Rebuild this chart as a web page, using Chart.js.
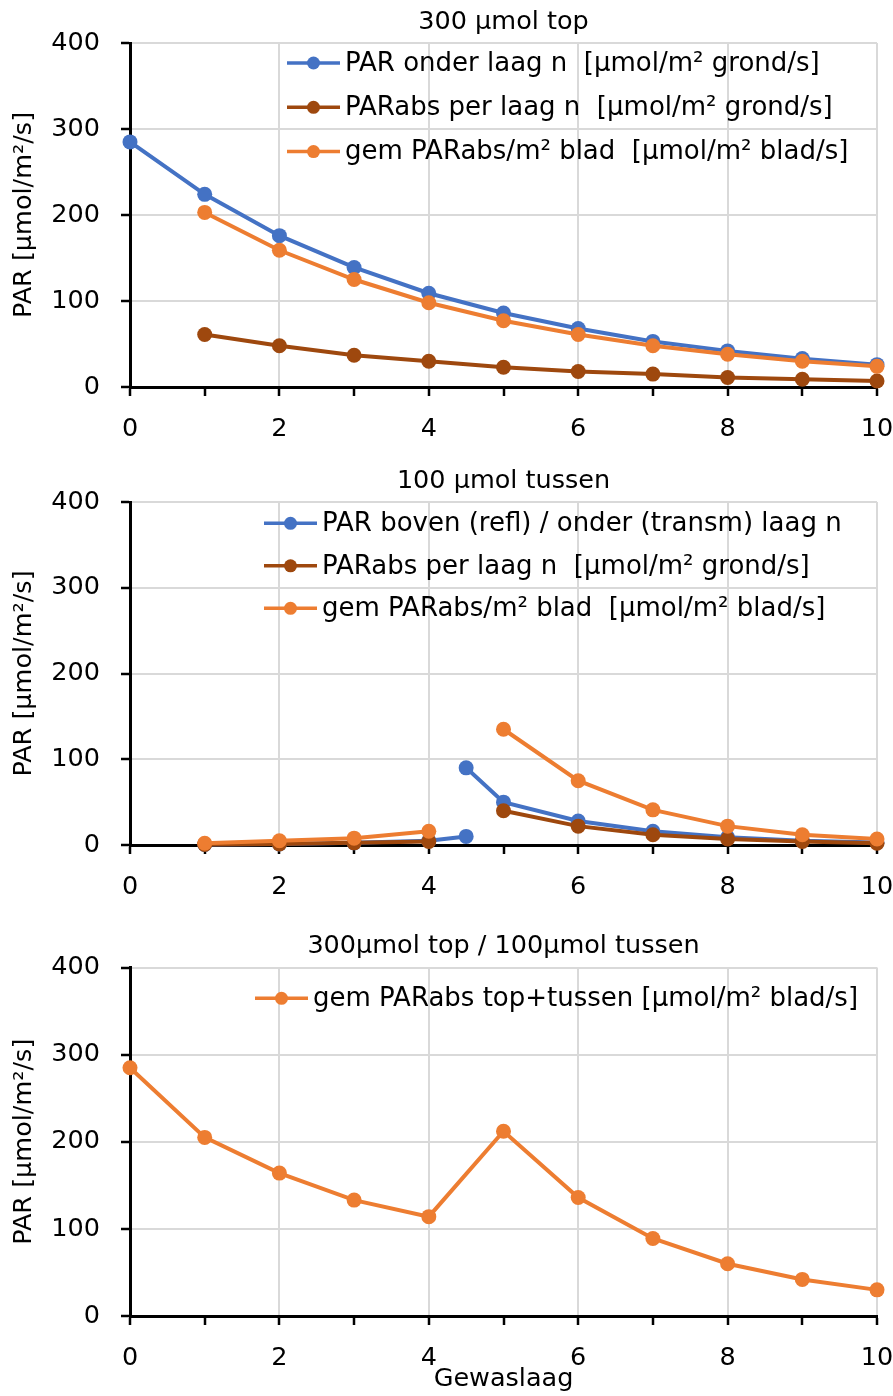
<!DOCTYPE html>
<html>
<head>
<meta charset="utf-8">
<script src="https://cdn.jsdelivr.net/npm/chart.js@4.4.1/dist/chart.umd.min.js"></script>
<style>
  body { margin: 0; background: #fff; }
  .box { position: absolute; left: 0; width: 893px; }
</style>
</head>
<body>
<div class="box" style="top:0;height:450px"><canvas id="top"></canvas></div>
<div class="box" style="top:450px;height:450px"><canvas id="tussen"></canvas></div>
<div class="box" style="top:900px;height:496px"><canvas id="totaal"></canvas></div>
<script>
// gewaslagen 0..10
const lagen = [0, 1, 2, 3, 4, 5, 6, 7, 8, 9, 10];

// 300 umol top
const topParOnder = [285, 224, 176, 139, 109, 86, 68, 53, 42, 33, 26];
const topParAbs = [null, 61, 48, 37, 30, 23, 18, 15, 11, 9, 7];
const topGemBlad = [null, 203, 159, 125, 98, 77, 61, 48, 38, 30, 24];

// 100 umol tussen (lamp op laag 4.5, null = onderbreking van de lijn)
const tussenX = [1, 2, 3, 4, 4.5, 4.5, 4.5, 5, 6, 7, 8, 9, 10];
const tussenPar = [0.6, 1.2, 2.5, 5, 10, null, 90, 50, 28, 16, 9, 5, 3];
const tussenAbs = [0.6, 1.3, 2.5, 4, null, null, null, 40, 22, 12, 7, 4, 2];
const tussenGemBlad = [2, 5, 8, 16, null, null, null, 135, 75, 41, 22, 12, 7];

// top + tussen
const totGemBlad = [285, 205, 164, 133, 114, 212, 136, 89, 60, 42, 30];

const BLUE = '#4472C4';
const BROWN = '#9E480E';
const ORANGE = '#ED7D31';
const FONT = 25.5;

Chart.defaults.font.family = "'DejaVu Sans', sans-serif";
Chart.defaults.color = '#000';

const toPoints = (xs, ys) => xs.map((x, i) => ({ x: x, y: ys[i] }));

function serie(label, color, xs, ys, order) {
  return {
    label: label,
    data: toPoints(xs, ys),
    borderColor: color,
    backgroundColor: color,
    borderWidth: 4,
    pointRadius: 7.5,
    pointHoverRadius: 7.5,
    pointBorderWidth: 0,
    pointBackgroundColor: color,
    spanGaps: false,
    clip: false,
    order: order
  };
}

// legend drawn inside the plot area, like the excel version
const insideLegend = {
  id: 'insideLegend',
  afterDatasetsDraw(chart, args, opts) {
    const ctx = chart.ctx;
    ctx.save();
    ctx.font = opts.size + "px 'DejaVu Sans'";
    ctx.textBaseline = 'middle';
    chart.data.datasets.forEach((ds, i) => {
      const y = opts.y + i * opts.gap;
      const x0 = opts.x - 58;
      const x1 = opts.x - 5;
      ctx.strokeStyle = ds.borderColor;
      ctx.lineWidth = 3.5;
      ctx.beginPath();
      ctx.moveTo(x0, y);
      ctx.lineTo(x1, y);
      ctx.stroke();
      ctx.fillStyle = ds.borderColor;
      ctx.beginPath();
      ctx.arc((x0 + x1) / 2, y, 6.5, 0, Math.PI * 2);
      ctx.fill();
      ctx.fillStyle = '#000';
      ctx.fillText(ds.label, opts.x, y + 1);
    });
    ctx.restore();
  }
};

function xScale(height, title) {
  return {
    type: 'linear',
    min: 0,
    max: 10,
    ticks: {
      stepSize: 1,
      autoSkip: false,
      maxRotation: 0,
      padding: 18,
      font: { size: FONT },
      callback: (v) => (v % 2 === 0 ? v : '')
    },
    grid: {
      color: (c) => (c.tick && c.tick.value % 2 === 0 ? '#d9d9d9' : 'rgba(0,0,0,0)'),
      lineWidth: 2,
      tickColor: '#000',
      tickLength: 9,
      tickWidth: 2.5
    },
    border: { color: '#000', width: 3 },
    title: {
      display: !!title,
      text: title || '',
      font: { size: FONT },
      padding: { top: 0, bottom: 1.7 }
    },
    afterFit: (s) => { s.height = height; s.paddingLeft = 0; s.paddingRight = 0; }
  };
}

function yScale() {
  return {
    min: 0,
    max: 400,
    ticks: { stepSize: 100, padding: 21, font: { size: FONT } },
    grid: {
      color: '#d9d9d9',
      lineWidth: 2,
      tickColor: '#000',
      tickLength: 9,
      tickWidth: 2.5
    },
    border: { color: '#000', width: 3 },
    title: {
      display: true,
      text: 'PAR [µmol/m²/s]',
      font: { size: FONT },
      padding: { top: 8.7, bottom: 0 }
    },
    afterFit: (s) => { s.width = 130; }
  };
}

function makeChart(id, datasets, opts) {
  return new Chart(document.getElementById(id), {
    type: 'line',
    data: { datasets: datasets },
    options: {
      responsive: true,
      maintainAspectRatio: false,
      animation: false,
      events: [],
      layout: { padding: { left: 0, right: 16, top: 0, bottom: 0 } },
      scales: { x: xScale(opts.xHeight, opts.xTitle), y: yScale() },
      plugins: {
        legend: { display: false },
        tooltip: { enabled: false },
        title: {
          display: true,
          text: opts.title,
          fullSize: false,
          color: '#000',
          font: { size: FONT, weight: 'normal' },
          padding: opts.titlePad
        },
        insideLegend: opts.legend
      }
    },
    plugins: [insideLegend]
  });
}

makeChart('top', [
  serie('PAR onder laag n  [µmol/m² grond/s]', BLUE, lagen, topParOnder, 3),
  serie('PARabs per laag n  [µmol/m² grond/s]', BROWN, lagen, topParAbs, 2),
  serie('gem PARabs/m² blad  [µmol/m² blad/s]', ORANGE, lagen, topGemBlad, 1)
], {
  title: '300 µmol top',
  titlePad: { top: 7.2, bottom: 5.2 },
  xHeight: 63,
  legend: { x: 345, y: 63, gap: 44.3, size: 26 }
});

makeChart('tussen', [
  serie('PAR boven (refl) / onder (transm) laag n', BLUE, tussenX, tussenPar, 3),
  serie('PARabs per laag n  [µmol/m² grond/s]', BROWN, tussenX, tussenAbs, 2),
  serie('gem PARabs/m² blad  [µmol/m² blad/s]', ORANGE, tussenX, tussenGemBlad, 1)
], {
  title: '100 µmol tussen',
  titlePad: { top: 15.7, bottom: 5.7 },
  xHeight: 55,
  legend: { x: 322, y: 73.3, gap: 42.5, size: 26 }
});

makeChart('totaal', [
  serie('gem PARabs top+tussen [µmol/m² blad/s]', ORANGE, lagen, totGemBlad, 1)
], {
  title: '300µmol top / 100µmol tussen',
  titlePad: { top: 30.7, bottom: 6.2 },
  xHeight: 80,
  xTitle: 'Gewaslaag',
  legend: { x: 313, y: 98.3, gap: 0, size: 26 }
});
</script>
</body>
</html>
